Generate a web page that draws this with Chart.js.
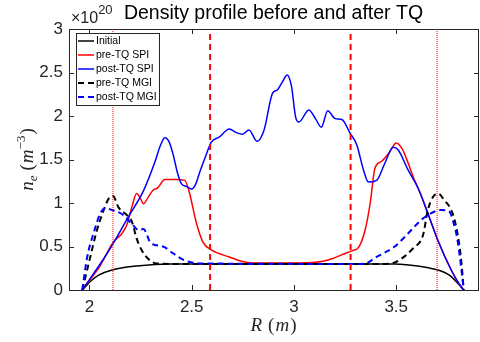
<!DOCTYPE html>
<html>
<head>
<meta charset="utf-8">
<script src="https://cdn.jsdelivr.net/npm/chart.js@4.4.1/dist/chart.umd.min.js"></script>
<style>
  html, body { margin: 0; padding: 0; background: #fff; }
</style>
</head>
<body>
<canvas id="densityChart" width="480" height="342"></canvas>
<script>
// values, R in m, n_e in 1e20 m^-3
const rInitial = [1.965, 1.985, 2.005, 2.045, 2.11, 2.23, 2.393, 3.3, 3.493, 3.623, 3.704, 3.76, 3.8, 3.83];
const nInitial = [0, 0.05, 0.1, 0.17, 0.23, 0.275, 0.3, 0.3, 0.3, 0.27, 0.23, 0.17, 0.08, 0];

const rPreSpi = [1.965, 2.0, 2.05, 2.118, 2.159, 2.183, 2.207, 2.231, 2.25, 2.264, 2.288, 2.312, 2.332, 2.369, 2.425, 2.466, 2.49, 2.51, 2.523, 2.555, 2.596, 2.684, 2.765, 2.862, 3.105, 3.186, 3.25, 3.283, 3.316, 3.348, 3.373, 3.396, 3.429, 3.469, 3.5, 3.53, 3.55, 3.59, 3.615, 3.655, 3.704, 3.769, 3.8, 3.83];
const nPreSpi = [0, 0.11, 0.27, 0.555, 0.65, 0.75, 0.95, 1.11, 1.05, 0.99, 1.07, 1.15, 1.17, 1.27, 1.27, 1.26, 1.11, 0.9, 0.77, 0.55, 0.46, 0.38, 0.32, 0.31, 0.32, 0.36, 0.42, 0.45, 0.49, 0.69, 1.0, 1.4, 1.48, 1.59, 1.69, 1.62, 1.51, 1.26, 1.13, 0.88, 0.57, 0.23, 0.1, 0];

const rPostSpi = [1.965, 2.0, 2.05, 2.11, 2.19, 2.264, 2.32, 2.345, 2.369, 2.39, 2.41, 2.43, 2.45, 2.475, 2.5, 2.52, 2.54, 2.57, 2.596, 2.636, 2.684, 2.717, 2.749, 2.78, 2.82, 2.854, 2.895, 2.919, 2.943, 2.967, 2.988, 3.008, 3.024, 3.073, 3.105, 3.134, 3.165, 3.202, 3.234, 3.275, 3.307, 3.34, 3.364, 3.404, 3.445, 3.485, 3.51, 3.558, 3.607, 3.655, 3.704, 3.769, 3.8, 3.83];
const nPostSpi = [0, 0.12, 0.29, 0.51, 0.84, 1.14, 1.47, 1.65, 1.75, 1.7, 1.55, 1.35, 1.22, 1.19, 1.16, 1.22, 1.36, 1.55, 1.7, 1.76, 1.85, 1.81, 1.79, 1.84, 1.71, 1.84, 2.26, 2.3, 2.39, 2.47, 2.34, 1.99, 1.93, 2.07, 1.97, 1.87, 2.06, 1.97, 1.96, 1.8, 1.67, 1.38, 1.24, 1.26, 1.46, 1.64, 1.61, 1.38, 1.17, 0.88, 0.57, 0.23, 0.1, 0];

const rPreMgi = [1.965, 1.997, 2.037, 2.07, 2.094, 2.115, 2.142, 2.183, 2.207, 2.231, 2.255, 2.296, 2.33, 2.4, 3.45, 3.477, 3.526, 3.583, 3.631, 3.655, 3.68, 3.704, 3.736, 3.769, 3.793, 3.818, 3.83];
const nPreMgi = [0, 0.31, 0.69, 0.92, 1.05, 1.08, 0.95, 0.86, 0.79, 0.59, 0.46, 0.34, 0.305, 0.3, 0.3, 0.305, 0.36, 0.48, 0.63, 0.92, 1.07, 1.11, 1.03, 0.92, 0.73, 0.34, 0];

const rPostMgi = [1.965, 1.989, 2.02, 2.053, 2.078, 2.11, 2.167, 2.207, 2.24, 2.264, 2.3, 2.36, 2.41, 2.466, 2.555, 3.3, 3.348, 3.404, 3.493, 3.558, 3.615, 3.655, 3.72, 3.76, 3.777, 3.8, 3.825, 3.83];
const nPostMgi = [0, 0.38, 0.65, 0.88, 0.94, 0.92, 0.86, 0.76, 0.69, 0.7, 0.54, 0.5, 0.42, 0.34, 0.305, 0.3, 0.305, 0.38, 0.5, 0.65, 0.79, 0.86, 0.92, 0.9, 0.8, 0.57, 0.11, 0];

// vertical marker lines (R positions)
const dottedR = [2.115, 3.70];
const dashedR = [2.59, 3.277];

const xTicks = [2, 2.5, 3, 3.5];
const xTickLabels = ["2", "2.5", "3", "3.5"];
const yTicks = [0, 0.5, 1, 1.5, 2, 2.5, 3];
const yTickLabels = ["0", "0.5", "1", "1.5", "2", "2.5", "3"];

const seriesLabels = ["Initial", "pre-TQ SPI", "post-TQ SPI", "pre-TQ MGI", "post-TQ MGI"];

const AXIS_COLOR = "#262626";
const SANS = '"Liberation Sans", Arial, sans-serif';
const SERIF = '"Liberation Serif", "Times New Roman", serif';

function pts(rs, ns) {
  return rs.map((r, i) => ({ x: r, y: ns[i] }));
}

function curve(label, rs, ns, color, dashed, order) {
  return {
    label: label,
    data: pts(rs, ns),
    borderColor: color,
    borderWidth: dashed ? 2 : 1.5,
    borderDash: dashed ? [6, 4] : [],
    pointRadius: 0,
    cubicInterpolationMode: "monotone",
    fill: false,
    order: order,
  };
}

function vline(r, dotted) {
  return {
    label: "",
    data: [{ x: r, y: 0 }, { x: r, y: 3 }],
    borderColor: "#ff0000",
    borderWidth: dotted ? 1 : 2,
    borderDash: dotted ? [1, 1] : [6, 4],
    pointRadius: 0,
    fill: false,
    order: 0,
  };
}

const datasets = [
  curve(seriesLabels[0], rInitial, nInitial, "#000000", false, 5),
  curve(seriesLabels[1], rPreSpi, nPreSpi, "#ff0000", false, 4),
  curve(seriesLabels[2], rPostSpi, nPostSpi, "#0000ff", false, 3),
  curve(seriesLabels[3], rPreMgi, nPreMgi, "#000000", true, 2),
  curve(seriesLabels[4], rPostMgi, nPostMgi, "#0000ff", true, 1),
];
dottedR.forEach((r) => datasets.push(vline(r, true)));
dashedR.forEach((r) => datasets.push(vline(r, false)));

// draw a run of text pieces (font, text, vertical shift, gap after)
function drawPieces(ctx, pieces, x, y) {
  let cx = x;
  pieces.forEach((p) => {
    ctx.font = p.font;
    ctx.fillText(p.text, cx, y + (p.dy || 0));
    cx += ctx.measureText(p.text).width + (p.gap || 0);
  });
}
function piecesWidth(ctx, pieces) {
  let w = 0;
  pieces.forEach((p) => {
    ctx.font = p.font;
    w += ctx.measureText(p.text).width + (p.gap || 0);
  });
  return w;
}

const matlabLook = {
  id: "matlabLook",
  afterDraw(chart) {
    const ctx = chart.ctx;
    const a = chart.chartArea;
    const xs = chart.scales.x;
    const ys = chart.scales.y;
    ctx.save();
    ctx.setLineDash([]);

    // tick labels
    ctx.fillStyle = AXIS_COLOR;
    ctx.font = "17px " + SANS;
    ctx.textBaseline = "middle";
    ctx.textAlign = "center";
    xTicks.forEach((v, i) => {
      ctx.fillText(xTickLabels[i], xs.getPixelForValue(v), 307);
    });
    ctx.textAlign = "right";
    yTicks.forEach((v, i) => {
      ctx.fillText(yTickLabels[i], a.left - 6, ys.getPixelForValue(v));
    });

    // title and exponent
    ctx.fillStyle = "#000";
    ctx.textBaseline = "alphabetic";
    ctx.textAlign = "center";
    ctx.font = "19.5px " + SANS;
    ctx.fillText("Density profile before and after TQ", (a.left + a.right) / 2, 19);
    ctx.textAlign = "left";
    ctx.fillStyle = AXIS_COLOR;
    drawPieces(ctx, [
      { text: "\u00d710", font: "16px " + SANS },
      { text: "20", font: "13px " + SANS, dy: -9 },
    ], 71, 23);

    // x label
    const xl = [
      { text: "R", font: "italic 19px " + SERIF, gap: 6 },
      { text: "(", font: "19px " + SERIF, gap: 1 },
      { text: "m", font: "italic 19px " + SERIF, gap: 1 },
      { text: ")", font: "19px " + SERIF },
    ];
    drawPieces(ctx, xl, (a.left + a.right) / 2 - piecesWidth(ctx, xl) / 2, 331);

    // y label, rotated
    const yl = [
      { text: "n", font: "italic 19px " + SERIF },
      { text: "e", font: "italic 13px " + SERIF, dy: 4, gap: 5 },
      { text: "(", font: "19px " + SERIF, gap: 1 },
      { text: "m", font: "italic 19px " + SERIF },
      { text: "\u22123", font: "13px " + SERIF, dy: -8, gap: 1 },
      { text: ")", font: "19px " + SERIF },
    ];
    ctx.save();
    ctx.translate(33, (a.top + a.bottom) / 2);
    ctx.rotate(-Math.PI / 2);
    drawPieces(ctx, yl, -piecesWidth(ctx, yl) / 2, 0);
    ctx.restore();

    // legend box in the upper left of the axes
    const lx = 76, ly = 33, lw = 83, lh = 72;
    ctx.fillStyle = "#fff";
    ctx.fillRect(lx, ly, lw, lh);
    ctx.strokeStyle = AXIS_COLOR;
    ctx.lineWidth = 1;
    ctx.strokeRect(lx + 0.5, ly + 0.5, lw, lh);
    ctx.font = "10.5px " + SANS;
    ctx.textBaseline = "middle";
    seriesLabels.forEach((lab, i) => {
      const ds = chart.data.datasets[i];
      const rowY = 41 + i * 14;
      ctx.strokeStyle = ds.borderColor;
      ctx.lineWidth = ds.borderWidth;
      ctx.setLineDash(ds.borderDash);
      ctx.beginPath();
      ctx.moveTo(78, rowY); ctx.lineTo(94, rowY);
      ctx.stroke();
      ctx.fillStyle = "#000";
      ctx.fillText(lab, 96, rowY);
    });

    // axes box + inward ticks, drawn last
    ctx.setLineDash([]);
    ctx.strokeStyle = AXIS_COLOR;
    ctx.lineWidth = 1;
    ctx.strokeRect(a.left + 0.5, a.top + 0.5, a.right - a.left, a.bottom - a.top);
    ctx.beginPath();
    xTicks.forEach((v) => {
      const px = Math.round(xs.getPixelForValue(v)) + 0.5;
      ctx.moveTo(px, a.bottom); ctx.lineTo(px, a.bottom - 5);
      ctx.moveTo(px, a.top + 1); ctx.lineTo(px, a.top + 5);
    });
    yTicks.forEach((v) => {
      const py = Math.round(ys.getPixelForValue(v)) + 0.5;
      ctx.moveTo(a.left + 1, py); ctx.lineTo(a.left + 5, py);
      ctx.moveTo(a.right, py); ctx.lineTo(a.right - 4, py);
    });
    ctx.stroke();
    ctx.restore();
  },
};

const chart = new Chart(document.getElementById("densityChart"), {
  type: "line",
  data: { datasets: datasets },
  options: {
    responsive: false,
    animation: false,
    devicePixelRatio: 1,
    layout: { padding: { top: 29, right: 2, left: 0, bottom: 0 } },
    plugins: {
      legend: { display: false },
      tooltip: { enabled: false },
      title: { display: false },
    },
    scales: {
      x: {
        type: "linear",
        min: 1.9,
        max: 3.9,
        grid: { display: false },
        border: { display: false },
        ticks: { display: false },
        afterFit: (s) => { s.height = 52; },
      },
      y: {
        type: "linear",
        min: 0,
        max: 3,
        grid: { display: false },
        border: { display: false },
        ticks: { display: false },
        afterFit: (s) => { s.width = 69; },
      },
    },
  },
  plugins: [matlabLook],
});
</script>
</body>
</html>
